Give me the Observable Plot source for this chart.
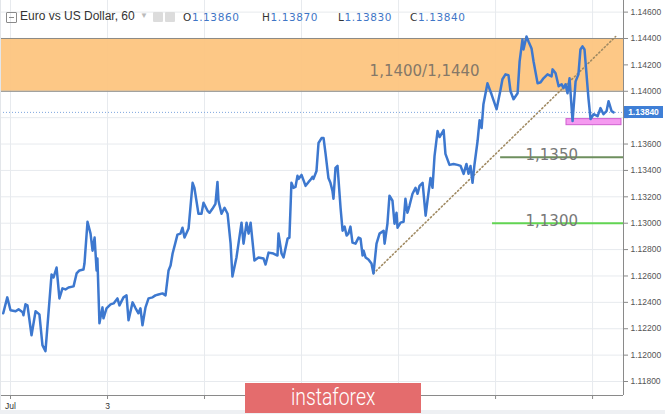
<!DOCTYPE html>
<html><head><meta charset="utf-8">
<script src="https://cdn.jsdelivr.net/npm/d3@7"></script>
<script src="https://cdn.jsdelivr.net/npm/@observablehq/plot@0.6"></script>
<style>
body{margin:0;background:#fff;}
#wrap{position:relative;width:665px;height:414px;overflow:hidden;background:#fff;font-family:"Liberation Sans",Arial,sans-serif;}
#wrap svg{position:absolute;left:0;top:0;}
.abs{position:absolute;}
#icon{left:6px;top:12px;width:9px;height:9px;border:1px solid #8a8a8a;border-radius:1px;}
#icon:after{content:"";position:absolute;left:2px;right:2px;top:4px;height:1px;background:#8a8a8a;}
#title{left:20px;top:9px;font-size:12px;color:#333;white-space:nowrap;}
#caret{left:140px;top:11px;font-size:8px;color:#bbb;}
.eye{top:12px;width:10px;height:10px;background:#dcdcdc;border-radius:1px;}
.ohlc{top:11px;font-family:"DejaVu Sans",sans-serif;font-size:10.5px;color:#333;white-space:nowrap;letter-spacing:0.6px;}
.ohlc b{font-weight:normal;color:#3f76c6;}
#wm{left:245px;top:383px;width:176px;height:30px;background:#e46c6d;color:#fff;text-align:center;line-height:30px;}
#wm span{display:inline-block;font-family:Roboto,sans-serif;font-weight:300;font-size:23px;transform:scaleX(0.84);}
#lborder{left:0;top:0;width:1px;height:414px;background:#e3e6ea;}
#bborder{left:0;top:410px;width:665px;height:4px;background:#eef0f3;}
#pricebox{width:39px;height:12px;background:#3f7fd6;color:#fff;font-size:8.5px;font-weight:bold;line-height:12px;text-align:center;}
</style></head><body><div id="wrap"></div>
<script>
// price series (hourly, hours since Jul 1)
const hours = [-3.6,-1.6,0.0,2.5,4.0,6.0,6.4,7.4,8.4,10.4,12.4,14.3,15.8,17.3,20.3,21.3,22.8,24.2,25.7,27.2,28.7,31.2,32.7,34.1,36.1,36.6,38.1,39.6,40.6,41.6,42.6,43.0,44.0,45.5,46.0,47.5,49.5,51.0,52.9,53.9,55.9,57.4,58.4,60.4,61.9,63.3,64.3,65.3,66.8,68.3,70.3,71.7,73.2,75.2,76.7,78.2,79.2,80.2,81.6,82.6,84.1,85.1,86.1,88.1,90.1,91.0,93.0,94.5,95.5,97.5,98.5,99.9,101.4,102.4,102.9,104.4,105.9,107.4,108.9,109.8,111.8,112.8,114.3,115.3,116.8,117.8,118.8,120.7,122.7,125.2,126.2,127.7,130.1,132.1,132.6,134.1,135.1,137.1,138.0,139.0,140.0,141.0,142.0,142.5,144.0,146.0,147.5,148.4,149.4,149.9,151.4,152.4,153.9,154.9,155.9,157.3,158.3,159.3,159.8,160.8,161.8,163.3,164.3,165.3,166.3,167.2,168.2,169.2,170.7,172.2,173.2,174.2,174.7,175.7,177.1,178.6,179.6,181.1,182.6,184.6,185.1,186.5,187.5,189.0,190.0,191.0,191.5,193.0,194.5,195.4,196.4,197.4,198.9,200.4,201.4,202.4,203.9,205.4,206.3,207.8,208.8,209.8,211.3,212.3,214.3,215.2,217.2,219.2,221.2,222.7,224.2,225.6,226.6,227.6,228.6,229.6,231.1,232.1,233.1,234.0,236.0,238.0,240.5,242.5,243.4,244.9,246.4,247.4,248.9,250.9,251.9,253.3,253.8,255.3,256.3,257.8,258.8,260.8,262.3,263.7,265.7,267.7,268.2,269.7,271.2,272.7,273.6,274.6,275.6,276.6,278.1,279.6,281.0,282.0,283.0,284.0,286.0,287.0,288.5,290.5,291.9,293.4,294.9,295.9,297.4,298.4];
const prices = [1.12317,1.12438,1.12340,1.12332,1.12347,1.12325,1.12302,1.12385,1.12377,1.12151,1.12332,1.12309,1.12076,1.12030,1.12611,1.12589,1.12664,1.12430,1.12506,1.12498,1.12513,1.12521,1.12619,1.12642,1.12649,1.12694,1.13011,1.12921,1.12792,1.12891,1.12642,1.12732,1.12242,1.12362,1.12279,1.12355,1.12385,1.12392,1.12430,1.12377,1.12438,1.12453,1.12264,1.12400,1.12355,1.12317,1.12355,1.12226,1.12362,1.12430,1.12438,1.12453,1.12460,1.12468,1.12453,1.12642,1.12679,1.12770,1.12853,1.12913,1.12921,1.12966,1.12891,1.12959,1.13306,1.13268,1.13072,1.13072,1.13155,1.13094,1.13079,1.13109,1.13147,1.13313,1.13170,1.13072,1.13117,1.13072,1.12845,1.12596,1.12740,1.12845,1.13004,1.12845,1.13004,1.12921,1.13004,1.12717,1.12740,1.12732,1.12687,1.12777,1.12770,1.12755,1.12921,1.12770,1.12740,1.12883,1.12891,1.13306,1.13268,1.13275,1.13359,1.13336,1.13366,1.13283,1.13313,1.13328,1.13351,1.13336,1.13396,1.13608,1.13645,1.13645,1.13525,1.13343,1.13306,1.13245,1.13185,1.13419,1.13434,1.13117,1.12943,1.12974,1.12906,1.12921,1.12974,1.12853,1.12845,1.12891,1.12883,1.12755,1.12792,1.12740,1.12725,1.12694,1.12619,1.12845,1.12921,1.12943,1.12845,1.12996,1.13208,1.13170,1.12996,1.13079,1.12966,1.13004,1.13011,1.13185,1.13079,1.13132,1.13223,1.13268,1.13223,1.13283,1.13306,1.13057,1.13170,1.13343,1.13268,1.13509,1.13698,1.13653,1.13706,1.13525,1.13442,1.13449,1.13442,1.13434,1.13374,1.13449,1.13374,1.13434,1.13306,1.13449,1.13623,1.13781,1.13721,1.13902,1.14060,1.13977,1.13864,1.14015,1.14091,1.14128,1.14121,1.14000,1.13940,1.13985,1.14226,1.14392,1.14317,1.14415,1.14377,1.14325,1.14226,1.14060,1.14068,1.14098,1.14128,1.14113,1.14166,1.14136,1.14038,1.14053,1.14023,1.14053,1.13985,1.14098,1.13774,1.14075,1.14128,1.14317,1.14340,1.14317,1.13940,1.13789,1.13826,1.13811,1.13872,1.13826,1.13849,1.13925,1.13849,1.13840];

const xTicks = [0,48,96,144,192,240,288];
const xTickLabels = ["Jul","3","","","","",""];
const yTicks = [1.118,1.120,1.122,1.124,1.126,1.128,1.130,1.132,1.134,1.136,1.138,1.140,1.142,1.144,1.146];

const zone = [{lo:1.1400, hi:1.1440}];
const zoneLabel = [{text:"1,1400/1,1440", hour:204.9, price:1.14151}];
const levels = [
  {name:"1,1350", from:242.5, price:1.1350, color:"#6e8f5e"},
  {name:"1,1300", from:238.5, price:1.1300, color:"#62d452"}
];
const levelLabels = [{text:"1,1350", hour:254.8, price:1.1350},{text:"1,1300", hour:254.8, price:1.1300}];
const trend = [{hour:179.6, price:1.12619},{hour:299.4, price:1.14415}];
const pinkBox = [{h1:275.1, h2:302.3, p1:1.13743, p2:1.13789}];
const ohlc = [["O","1.13860"],["H","1.13870"],["L","1.13830"],["C","1.13840"]];
const lastPrice = 1.13840;

const xDomain = [-4.95, 303.3];
const yDomain = [1.11694, 1.14688];

const data = hours.map((h,i)=>({hour:h, price:prices[i]}));
const levelSegs = levels.map(l=>({...l, to:xDomain[1]}));

const chart = Plot.plot({
  width:665, height:414,
  marginLeft:0, marginRight:42, marginTop:0, marginBottom:19,
  style:{background:"transparent", fontFamily:"Liberation Sans, Arial, sans-serif", fontSize:"8.5px", color:"#555", overflow:"visible"},
  x:{domain:xDomain},
  y:{domain:yDomain},
  marks:[
    Plot.gridX(xTicks, {stroke:"#e7eaee", strokeOpacity:1}),
    Plot.gridY(yTicks, {stroke:"#e7eaee", strokeOpacity:1}),
    Plot.rect(zone, {y1:"lo", y2:"hi", fill:"#fdc57f", fillOpacity:0.95}),
    Plot.ruleY([zone[0].lo, zone[0].hi], {stroke:"#8c8a86", strokeWidth:1}),
    Plot.ruleY(levelSegs, {y:"price", x1:"from", x2:"to", stroke:"color", strokeWidth:2}),
    Plot.rect(pinkBox, {x1:"h1", x2:"h2", y1:"p1", y2:"p2", fill:"#f59af0", stroke:"#cf5fcf", strokeWidth:1}),
    Plot.line(trend, {x:"hour", y:"price", stroke:"#a08a62", strokeWidth:1.6, strokeDasharray:"1.2,2.6"}),
    Plot.ruleY([lastPrice], {stroke:"#7ea6de", strokeWidth:1, strokeDasharray:"1,2"}),
    Plot.line(data, {x:"hour", y:"price", stroke:"#3d78cf", strokeWidth:2.5, strokeLinejoin:"round"}),
    Plot.text(zoneLabel, {x:"hour", y:"price", text:"text", fontSize:15, fontFamily:"DejaVu Sans", fill:"#857868", lineAnchor:"middle"}),
    Plot.text(levelLabels, {x:"hour", y:"price", text:"text", textAnchor:"start", lineAnchor:"bottom", dy:3, fontSize:15, fontFamily:"DejaVu Sans", fill:"#787878"}),
    Plot.ruleX([xDomain[1]], {stroke:"#8a8a8a"}),
    Plot.ruleY([yDomain[0]], {stroke:"#8a8a8a"}),
    Plot.axisY(yTicks, {anchor:"right", tickSize:4, tickPadding:3, tickFormat:d=>(Math.abs(d-1.138)<1e-9 ? "" : d.toFixed(5)), label:null, fill:"#555", stroke:"#8a8a8a"}),
    Plot.axisX(xTicks, {anchor:"bottom", tickSize:4, tickPadding:3, tickFormat:(d)=>xTickLabels[xTicks.indexOf(d)], label:null, fill:"#333", stroke:"#8a8a8a"})
  ]
});

const wrap = document.getElementById("wrap");
wrap.appendChild(chart);

// header and overlays
const add = (cls, id, html, style) => { const d=document.createElement("div"); d.className="abs "+(cls||""); if(id) d.id=id; if(html) d.innerHTML=html; if(style) Object.assign(d.style, style); wrap.appendChild(d); return d; };
add("", "lborder");
add("", "bborder");
add("", "icon");
add("", "title", "Euro vs US Dollar, 60");
add("", "caret", "▼");
add("eye", null, null, {left:"153px"});
add("eye", null, null, {left:"165px"});
const ohlcLeft = [183, 262, 338, 410];
ohlc.forEach(([k,v],i)=>add("ohlc", null, k+"<b>"+v+"</b>", {left:ohlcLeft[i]+"px"}));
add("", "wm", "<span>instaforex</span>");

// current price marker on the axis, placed with the plot's own scales
const yPos = chart.scale("y").apply(lastPrice);
const xPos = chart.scale("x").apply(xDomain[1]);
add("", "pricebox", lastPrice.toFixed(5), {left:(xPos+1)+"px", top:(yPos-6)+"px"});
</script>
</body></html>
